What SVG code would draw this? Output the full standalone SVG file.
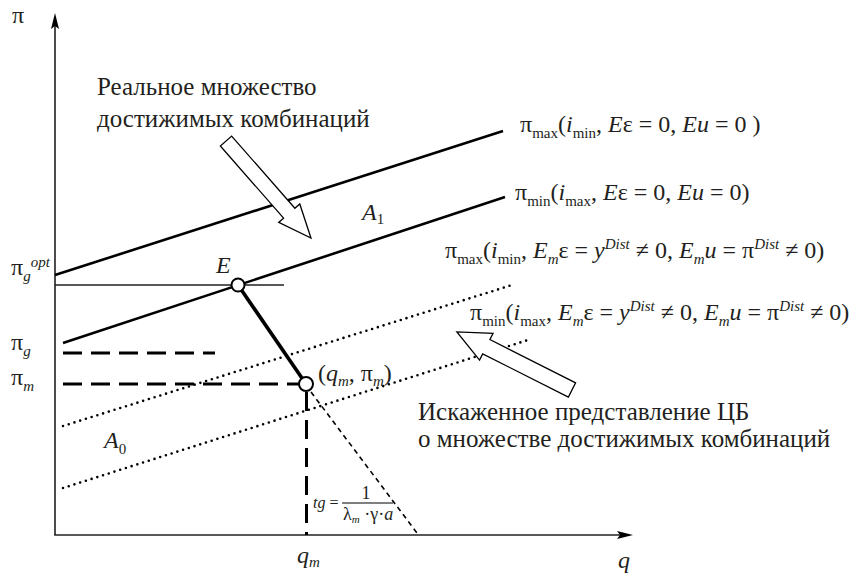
<svg xmlns="http://www.w3.org/2000/svg" width="863" height="574" viewBox="0 0 863 574">
<style>
text{font-family:'Liberation Serif','Times New Roman',serif;fill:#231f20}
.t{font-size:24px}
.c{font-size:25px}
.it{font-style:italic}
.sub{font-size:15px}
.f{font-size:18px}
.ax{stroke:#231f20;stroke-width:1.6;fill:none}
.solid{stroke:#000;stroke-width:2.6;fill:none}
.dot{stroke:#000;stroke-width:2.6;fill:none;stroke-linecap:round;stroke-dasharray:0 6}
.dash{stroke:#000;stroke-width:3;fill:none;stroke-dasharray:19 9}
.big{fill:#fff;stroke:#000;stroke-width:1.3}
.pt{fill:#fff;stroke:#000;stroke-width:2}
</style>
<rect width="863" height="574" fill="#fff"/>
<g id="axes">
<line class="ax" x1="55" y1="535" x2="55" y2="24"/>
<line class="ax" x1="54.2" y1="535" x2="622" y2="535"/>
<path d="M55,13 L59,29 L55,26 L51,29 Z" fill="#000"/>
<path d="M633,535 L617,539 L620,535 L617,531 Z" fill="#000"/>
<text class="t" x="12" y="23">π</text>
<text class="t it" x="618" y="568">q</text>
</g>
<g id="connectors">
<line class="solid" x1="55" y1="275" x2="503" y2="131"/>
<line class="solid" x1="63" y1="343" x2="505" y2="197"/>
<line class="ax" x1="55" y1="285" x2="284" y2="285"/>
<line class="dot" x1="63" y1="426" x2="512" y2="285"/>
<line class="dot" x1="63" y1="488" x2="528" y2="340"/>
<line x1="238" y1="285" x2="306" y2="384" stroke="#000" stroke-width="3.6"/>
<line x1="311" y1="392" x2="417" y2="533" stroke="#000" stroke-width="1.6" stroke-dasharray="5 4"/>
<line class="dash" x1="63" y1="353" x2="215" y2="353"/>
<line class="dash" x1="63" y1="384" x2="299" y2="384"/>
<line class="dash" x1="306.5" y1="392" x2="306.5" y2="535" stroke-dasharray="15 8"/>
</g>
<g id="arrow-real">
<polygon class="big" points="0,-7.5 96,-7.5 96,-14 129,0 96,14 96,7.5 0,7.5" transform="translate(226,141) rotate(48.8)"/>
</g>
<g id="arrow-distorted">
<polygon class="big" points="0,-8 96,-8 96,-15 129,0 96,15 96,8 0,8" transform="translate(572,390) rotate(206.8)"/>
</g>
<g id="point-E">
<circle class="pt" cx="238" cy="285" r="6.5"/>
<text class="t it" x="216" y="273">E</text>
</g>
<g id="point-Q">
<circle class="pt" cx="306" cy="384" r="7"/>
<text class="t" x="318" y="381">(<tspan class="it">q</tspan><tspan class="sub it" dy="5">m</tspan><tspan dy="-5">, π</tspan><tspan class="sub it" dy="5">m</tspan><tspan dy="-5">)</tspan></text>
</g>
<g id="left-labels">
<text class="t" x="11" y="275">π<tspan class="sub it" dy="6">g</tspan><tspan class="sub it" dy="-14">opt</tspan></text>
<text class="t" x="11" y="350">π<tspan class="sub it" dy="6">g</tspan></text>
<text class="t" x="11" y="385">π<tspan class="sub it" dy="6">m</tspan></text>
<text class="t it" x="297" y="563">q<tspan class="sub" dy="4">m</tspan></text>
</g>
<g id="regions">
<text class="t it" x="362" y="220">A<tspan class="sub" font-style="normal" dy="4">1</tspan></text>
<text class="t it" x="104" y="448">A<tspan class="sub" font-style="normal" dy="6">0</tspan></text>
</g>
<g id="tangent">
<text class="f" x="313" y="508" style="font-size:16px"><tspan class="it">tg</tspan> =</text>
<line x1="342" y1="503" x2="393" y2="503" stroke="#000" stroke-width="1"/>
<text class="f" x="366" y="499" text-anchor="middle">1</text>
<text class="f" x="343" y="520">λ<tspan class="it" style="font-size:11px" dy="3">m</tspan><tspan dy="-3"> ·γ·</tspan><tspan class="it">a</tspan></text>
</g>
<g id="line-labels">
<text class="t" x="520" y="132">π<tspan class="sub" dy="6">max</tspan><tspan dy="-6">(</tspan><tspan class="it">i</tspan><tspan class="sub" dy="6">min</tspan><tspan dy="-6">, </tspan><tspan class="it">E</tspan>ε = 0, <tspan class="it">Eu</tspan> = 0 )</text>
<text class="t" x="515" y="200">π<tspan class="sub" dy="6">min</tspan><tspan dy="-6">(</tspan><tspan class="it">i</tspan><tspan class="sub" dy="6">max</tspan><tspan dy="-6">, </tspan><tspan class="it">E</tspan>ε = 0, <tspan class="it">Eu</tspan> = 0)</text>
<text class="t" x="445" y="258">π<tspan class="sub" dy="6">max</tspan><tspan dy="-6">(</tspan><tspan class="it">i</tspan><tspan class="sub" dy="6">min</tspan><tspan dy="-6">, </tspan><tspan class="it">E</tspan><tspan class="sub it" dy="6">m</tspan><tspan dy="-6">ε = </tspan><tspan class="it">y</tspan><tspan class="sub it" dy="-9">Dist</tspan><tspan dy="9"> ≠ 0, </tspan><tspan class="it">E</tspan><tspan class="sub it" dy="6">m</tspan><tspan class="it" dy="-6">u</tspan> = π<tspan class="sub it" dy="-9">Dist</tspan><tspan dy="9"> ≠ 0)</tspan></text>
<text class="t" x="470" y="320">π<tspan class="sub" dy="6">min</tspan><tspan dy="-6">(</tspan><tspan class="it">i</tspan><tspan class="sub" dy="6">max</tspan><tspan dy="-6">, </tspan><tspan class="it">E</tspan><tspan class="sub it" dy="6">m</tspan><tspan dy="-6">ε = </tspan><tspan class="it">y</tspan><tspan class="sub it" dy="-9">Dist</tspan><tspan dy="9"> ≠ 0, </tspan><tspan class="it">E</tspan><tspan class="sub it" dy="6">m</tspan><tspan class="it" dy="-6">u</tspan> = π<tspan class="sub it" dy="-9">Dist</tspan><tspan dy="9"> ≠ 0)</tspan></text>
</g>
<g id="captions">
<text class="c" x="97" y="95">Реальное множество</text>
<text class="c" x="97" y="127">достижимых комбинаций</text>
<text class="c" x="418" y="420">Искаженное представление ЦБ</text>
<text class="c" x="418" y="447">о множестве достижимых комбинаций</text>
</g>
</svg>
